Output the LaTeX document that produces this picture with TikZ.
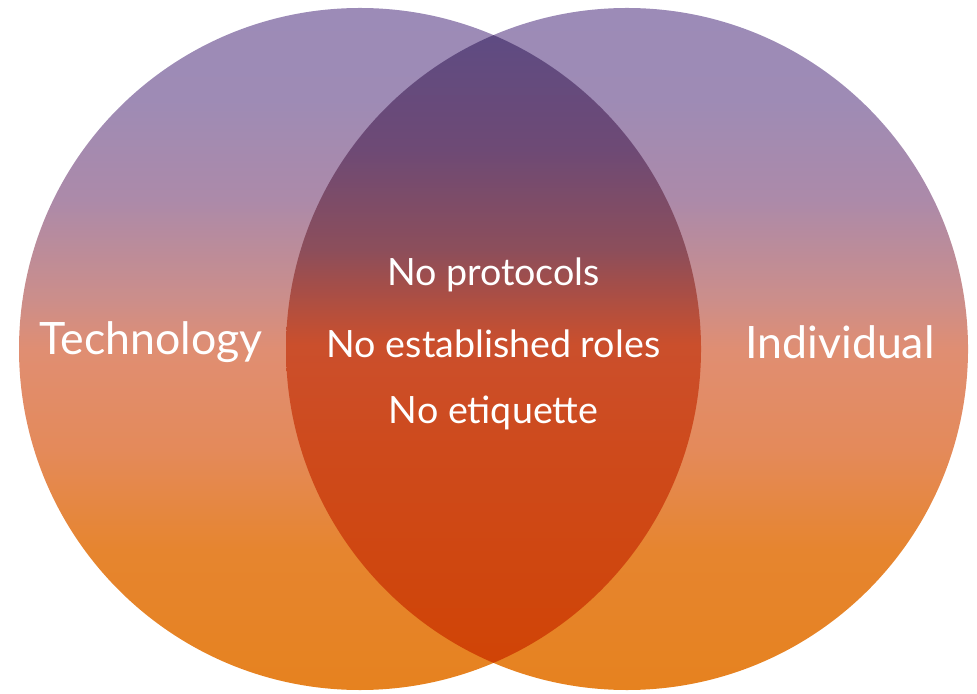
\documentclass[tikz,border=0pt]{standalone}
\usepackage{fontspec}
\setmainfont{Lato}

\definecolor{setTop}{HTML}{9C8BB7}
\definecolor{setA}{HTML}{9E8BB5}
\definecolor{setB}{HTML}{AC8AA9}
\definecolor{setC}{HTML}{CC8E8A}
\definecolor{setD}{HTML}{E08E72}
\definecolor{setE}{HTML}{E48A5A}
\definecolor{setF}{HTML}{E6852F}
\definecolor{setBot}{HTML}{E6821F}

\definecolor{lensTop}{HTML}{5F4B82}
\definecolor{lensA}{HTML}{6E4A75}
\definecolor{lensB}{HTML}{8C4E5B}
\definecolor{lensC}{HTML}{CB4F2C}
\definecolor{lensD}{HTML}{CE4A1C}
\definecolor{lensBot}{HTML}{D04406}

% the vertical run of each fill, bottom (25bp) to top (75bp)
\pgfdeclareverticalshading{setshade}{100bp}{
  color(0bp)=(setBot); color(25bp)=(setBot); color(35.3bp)=(setF);
  color(42.6bp)=(setE); color(49.9bp)=(setD); color(53.6bp)=(setC);
  color(60.9bp)=(setB); color(68.3bp)=(setA); color(75bp)=(setTop);
  color(100bp)=(setTop)}
\pgfdeclareverticalshading{lensshade}{100bp}{
  color(0bp)=(lensBot); color(27.2bp)=(lensBot); color(42.6bp)=(lensD);
  color(50.3bp)=(lensC); color(57.3bp)=(lensB); color(64.6bp)=(lensA);
  color(72.7bp)=(lensTop); color(100bp)=(lensTop)}

\begin{document}
\begin{tikzpicture}[
    setlabel/.style={text=white, font=\fontsize{12.7}{15}\selectfont},
    lenslabel/.style={text=white, font=\fontsize{10.7}{13}\selectfont}]
  \useasboundingbox (0,0) rectangle (9.77,6.93);

  % the two sets
  \coordinate (techc) at (3.60,3.44);
  \coordinate (indc) at (6.27,3.44);
  \shade[shading=setshade] (techc) circle (3.41);
  \shade[shading=setshade] (indc) circle (3.41);

  % overlap
  \begin{scope}
    \clip (techc) circle (3.41);
    \shade[shading=lensshade] (indc) circle (3.41);
  \end{scope}

  \node[setlabel] (tech) at (1.51,3.51) {Technology};
  \node[setlabel] (ind) at (8.40,3.51) {Individual};

  \node[lenslabel] (roles) at (4.935,3.49) {No established roles};
  \node[lenslabel] (proto) at (4.935,4.18) {No protocols};
  \node[lenslabel] (etiq) at (4.935,2.80) {No etiquette};
\end{tikzpicture}
\end{document}
